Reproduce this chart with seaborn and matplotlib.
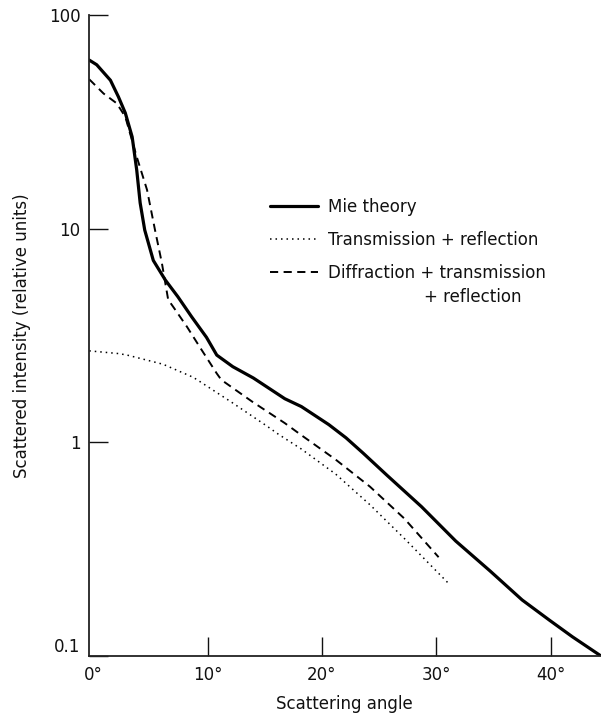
import matplotlib
matplotlib.use("Agg")
import matplotlib.pyplot as plt
from matplotlib.ticker import NullLocator
import numpy as np
import pandas as pd
import seaborn as sns

# ---- data ----
series_names = ["Mie theory", "Transmission + reflection", "Diffraction + transmission"]

mie_angle = [-0.35, 0.3, 1.5, 2.2, 2.8, 3.4, 3.8, 4.1, 4.5, 5.25, 6.3, 7.4, 8.6, 9.9,
             10.8, 12.2, 14.0, 16.75, 18.2, 20.6, 22.1, 23.6, 25.7, 28.7, 31.7,
             34.7, 37.5, 39.9, 41.9, 44.4]
mie_intensity = [61.5, 58.5, 49.5, 41.4, 34.8, 26.9, 18.8, 13.2, 9.85, 7.1, 5.75, 4.8,
                 3.87, 3.1, 2.56, 2.26, 2.0, 1.6, 1.47, 1.21, 1.05, 0.89, 0.70, 0.50,
                 0.345, 0.25, 0.183, 0.147, 0.123, 0.1]

tr_angle = [-0.35, 2.3, 3.1, 6.1, 8.7, 9.1, 12.1, 15.1, 16.2, 18.2, 21.2, 24.2, 27.2, 31.2]
tr_intensity = [2.68, 2.6, 2.55, 2.32, 2.02, 1.96, 1.54, 1.2, 1.09, 0.93, 0.71, 0.51,
                0.355, 0.215]

dtr_angle = [-0.35, 0.9, 2.05, 2.8, 3.8, 4.7, 5.4, 6.0, 6.55, 7.0, 8.2, 9.3, 10.8,
             11.2, 13.9, 16.75, 18.2, 21.2, 24.2, 27.2, 30.2]
dtr_intensity = [50.0, 42.9, 38.6, 33.4, 21.7, 15.2, 9.85, 6.9, 4.65, 4.3, 3.47, 2.8,
                 2.1, 1.96, 1.55, 1.23, 1.08, 0.83, 0.62, 0.44, 0.29]

x_ticks = [0, 10, 20, 30, 40]
x_tick_labels = ["0°", "10°", "20°", "30°", "40°"]
y_ticks = [0.1, 1, 10, 100]
y_tick_labels = ["0.1", "1", "10", "100"]

# ---- styling ----
sns.set_theme(style="ticks")
plt.rcParams["font.family"] = ["DejaVu Sans"]
FS = 12

W, H = 601, 714
fig = plt.figure(figsize=(W / 100, H / 100), dpi=100)
L, R, T, B = 88.7, 601.0, 15.0, 656.0
ax = fig.add_axes([L / W, (H - B) / H, (R - L) / W, (B - T) / H])
ax.set_facecolor("white")

mie = pd.DataFrame({"angle": mie_angle, "intensity": mie_intensity})
tr = pd.DataFrame({"angle": tr_angle, "intensity": tr_intensity})
dtr = pd.DataFrame({"angle": dtr_angle, "intensity": dtr_intensity})

sns.lineplot(data=mie, x="angle", y="intensity", ax=ax, color="black", linewidth=2.3,
             sort=False, estimator=None, label=series_names[0])
sns.lineplot(data=tr, x="angle", y="intensity", ax=ax, color="black", linewidth=1.1,
             linestyle=(0, (1, 2.6)), sort=False, estimator=None, label=series_names[1])
sns.lineplot(data=dtr, x="angle", y="intensity", ax=ax, color="black", linewidth=1.4,
             linestyle=(0, (4.2, 2.8)), sort=False, estimator=None, label=series_names[2])

ax.set_yscale("log")
ax.set_ylim(0.1, 100)
ax.set_xlim(-0.4, 44.4)
ax.set_yticks(y_ticks)
ax.set_yticklabels(y_tick_labels)
ax.yaxis.set_minor_locator(NullLocator())
ax.set_xticks(x_ticks)
ax.set_xticklabels(x_tick_labels)
ax.xaxis.get_major_ticks()[0].tick1line.set_visible(False)

ax.tick_params(axis="both", direction="in", length=14, width=1.0, colors="#111111",
               labelsize=FS, labelcolor="#111111")
ax.tick_params(axis="x", pad=7)
ax.tick_params(axis="y", pad=6)
ax.get_yticklabels()[0].set_verticalalignment("bottom")

sns.despine(ax=ax)
for s in ("left", "bottom"):
    ax.spines[s].set_linewidth(1.3)
    ax.spines[s].set_color("#222222")

ax.set_xlabel("Scattering angle", fontsize=FS, color="#111111", labelpad=8)
ax.set_ylabel("Scattered intensity (relative units)", fontsize=FS, color="#111111",
              labelpad=13)
ax.grid(False)

leg = ax.legend(loc="upper left", bbox_to_anchor=(0.354, 0.714), frameon=False,
                fontsize=FS, handlelength=2.9, handletextpad=0.6, labelspacing=0.9,
                borderpad=0, borderaxespad=0)
for t in leg.get_texts():
    t.set_color("#111111")
ax.text((424 - L) / (R - L), (B - 297) / (B - T), "+ reflection", transform=ax.transAxes,
        fontsize=FS, color="#111111", ha="left", va="center")

fig.savefig("out.png", dpi=100, facecolor="white")
